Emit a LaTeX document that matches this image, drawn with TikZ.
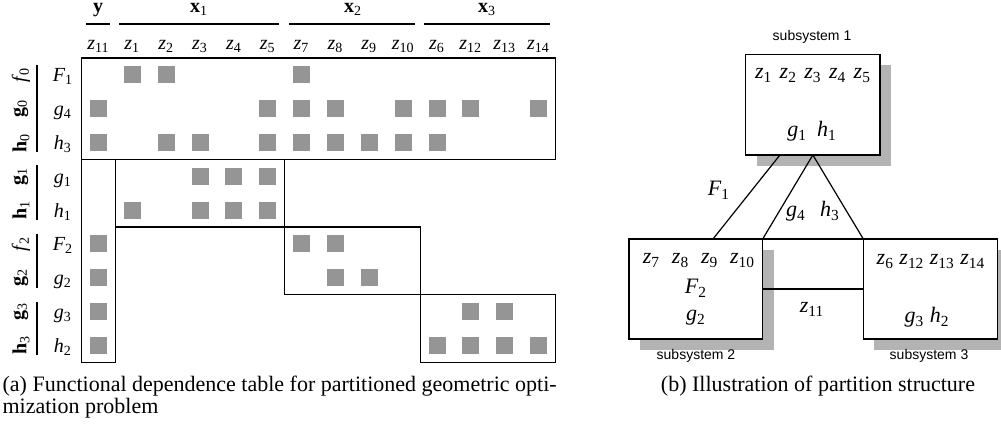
\documentclass[tikz,border=0pt]{standalone}
\usepackage{fontspec}
\setmainfont{Liberation Serif}
\newfontfamily\labelsans{Liberation Sans}
\usetikzlibrary{calc}
\definecolor{cellgray}{HTML}{959595}
\definecolor{shadegray}{HTML}{B3B3B3}
\newcommand{\svar}[2]{\textit{#1}\textsubscript{#2}}
\newcommand{\bvar}[2]{\textbf{#1}\textsubscript{#2}}
\def\cell(#1,#2){\fill[cellgray] ({98.5+33.85*#2-8.5},{75+33.8*#1-8.5}) rectangle +(17,17);}

\begin{document}
\begin{tikzpicture}[x=0.5pt, y=-0.5pt, line width=0.6pt,
		every node/.style={font=\fontsize{10}{12}\selectfont, inner sep=0pt},
		subbox/.style={draw, fill=white, minimum width=67pt, minimum height=50pt, outer sep=0pt},
		bigtext/.style={font=\fontsize{11}{13}\selectfont, anchor=base},
		subname/.style={font=\labelsans\fontsize{7}{8}\selectfont},
		captext/.style={font=\fontsize{11}{13}\selectfont}]
		\useasboundingbox (0,0) rectangle (1001,432);
		%%%%% START %%%%%
		
		% column groups
		\node[anchor=base] (hy) at (98,13) {\textbf{y}};
		\node[anchor=base] (hx1) at (199,13) {\bvar{x}{1}};
		\node[anchor=base] (hx2) at (353,13) {\bvar{x}{2}};
		\node[anchor=base] (hx3) at (487,13) {\bvar{x}{3}};
		\draw (86, 24) -- (110, 24);
		\draw (119, 24) -- (279, 24);
		\draw (289, 24) -- (415, 24);
		\draw (424, 24) -- (550, 24);
		
		\foreach \z [count=\i from 0] in {11,1,2,3,4,5,7,8,9,10,6,12,13,14}
			\node[anchor=base] (hz\z) at ({98.5+33.85*\i}, 50) {\svar{z}{\z}};
		
		% row labels
		\foreach \l/\s [count=\j from 0] in {F/1,g/4,h/3,g/1,h/1,F/2,g/2,g/3,h/2}
			\node[anchor=base] (row\j) at (63, {75+33.8*\j+7}) {\svar{\l}{\s}};
		
		\node[rotate=90] (gf0) at (21, 75) {\svar{f}{0}};
		\node[rotate=90] (gg0) at (21, 108.8) {\bvar{g}{0}};
		\node[rotate=90] (gh0) at (21, 142.6) {\bvar{h}{0}};
		\node[rotate=90] (gg1) at (21, 176.4) {\bvar{g}{1}};
		\node[rotate=90] (gh1) at (21, 210.2) {\bvar{h}{1}};
		\node[rotate=90] (gf2) at (21, 244) {\svar{f}{2}};
		\node[rotate=90] (gg2) at (21, 277.8) {\bvar{g}{2}};
		\node[rotate=90] (gg3) at (21, 311.6) {\bvar{g}{3}};
		\node[rotate=90] (gh3) at (21, 345.4) {\bvar{h}{3}};
		\draw (37, 65) -- (37, 152);
		\draw (37, 165) -- (37, 220);
		\draw (37, 234) -- (37, 288);
		\draw (37, 302) -- (37, 355);
		
		% dependence cells
		\foreach \r/\cols in {0/{1,2,6}, 1/{0,5,6,7,9,10,11,13}, 2/{0,2,3,5,6,7,8,9,10},
				3/{3,4,5}, 4/{1,3,4,5}, 5/{0,6,7}, 6/{0,7,8}, 7/{0,11,12}, 8/{0,10,11,12,13}}
			\foreach \c in \cols {\cell(\r,\c)}
		
		% blocks
		\draw (81.6, 58.1) rectangle (555.4, 159.5);
		\draw (81.6, 159.5) rectangle (115.4, 362.3);
		\draw (115.4, 159.5) rectangle (284.7, 227.1);
		\draw (284.7, 227.1) rectangle (420.1, 294.7);
		\draw (420.1, 294.7) rectangle (555.4, 362.3);
		
		% partition structure
		\coordinate (c1) at (812.85, 104.65);
		\coordinate (c2) at (695.85, 289);
		\coordinate (c3) at (930.3, 289);
		\fill[shadegray] ($(c1)+(-56,-39.3)$) rectangle ($(c1)+(78,61.3)$);
		\fill[shadegray] ($(c2)+(-56,-39)$) rectangle ($(c2)+(78,61)$);
		\fill[shadegray] ($(c3)+(-56,-39)$) rectangle ($(c3)+(78,61)$);
		\node[subbox, minimum width=67.15pt, minimum height=50.35pt] (sub1) at (c1) {};
		\node[subbox, minimum width=66.85pt] (sub2) at (c2) {};
		\node[subbox] (sub3) at (c3) {};
		
		\draw ($(sub1.south west)!0.255!(sub1.south east)$) -- ($(sub2.north west)!0.628!(sub2.north east)$);
		\draw (sub2.north east) -- (sub1.south) -- (sub3.north west);
		\draw (sub2.north east) -- (sub3.north west);
		\draw (sub2.east) -- (sub3.west);
		
		\node[bigtext] (vars1) at (813, 79) {\svar{z}{1}\hspace{3.7pt}\svar{z}{2}\hspace{3.7pt}\svar{z}{3}\hspace{3.7pt}\svar{z}{4}\hspace{3.7pt}\svar{z}{5}};
		\node[bigtext] (cons1) at (812, 137) {\svar{g}{1}\hspace{5pt}\svar{h}{1}};
		\node[bigtext] (vars2) at (699, 264) {\svar{z}{7}\hspace{5.9pt}\svar{z}{8}\hspace{5.9pt}\svar{z}{9}\hspace{5.9pt}\svar{z}{10}};
		\node[bigtext] (obj2) at (696, 294) {\svar{F}{2}};
		\node[bigtext] (cons2) at (696, 321) {\svar{g}{2}};
		\node[bigtext] (vars3) at (931, 265) {\svar{z}{6} \svar{z}{12} \svar{z}{13} \svar{z}{14}};
		\node[bigtext] (cons3) at (927, 323) {\svar{g}{3} \svar{h}{2}};
		\node[bigtext] (link1) at (719, 196) {\svar{F}{1}};
		\node[bigtext] (link2) at (796, 217) {\svar{g}{4}};
		\node[bigtext] (link3) at (830, 217) {\svar{h}{3}};
		\node[bigtext] (link4) at (812, 313) {\svar{z}{11}};
		
		\node[subname] (name1) at (812, 37) {subsystem 1};
		\node[subname] (name2) at (696, 356) {subsystem 2};
		\node[subname] (name3) at (929, 356) {subsystem 3};
		
		% captions
		\node[captext, anchor=base west] (capa) at (2, 392) {(a) Functional dependence table for partitioned geometric opti-};
		\node[captext, anchor=base west] (capb) at (2, 414) {mization problem};
		\node[captext, anchor=base] (capc) at (818, 392) {(b) Illustration of partition structure};
		
		%%%%% END %%%%%
\end{tikzpicture}
\end{document}
